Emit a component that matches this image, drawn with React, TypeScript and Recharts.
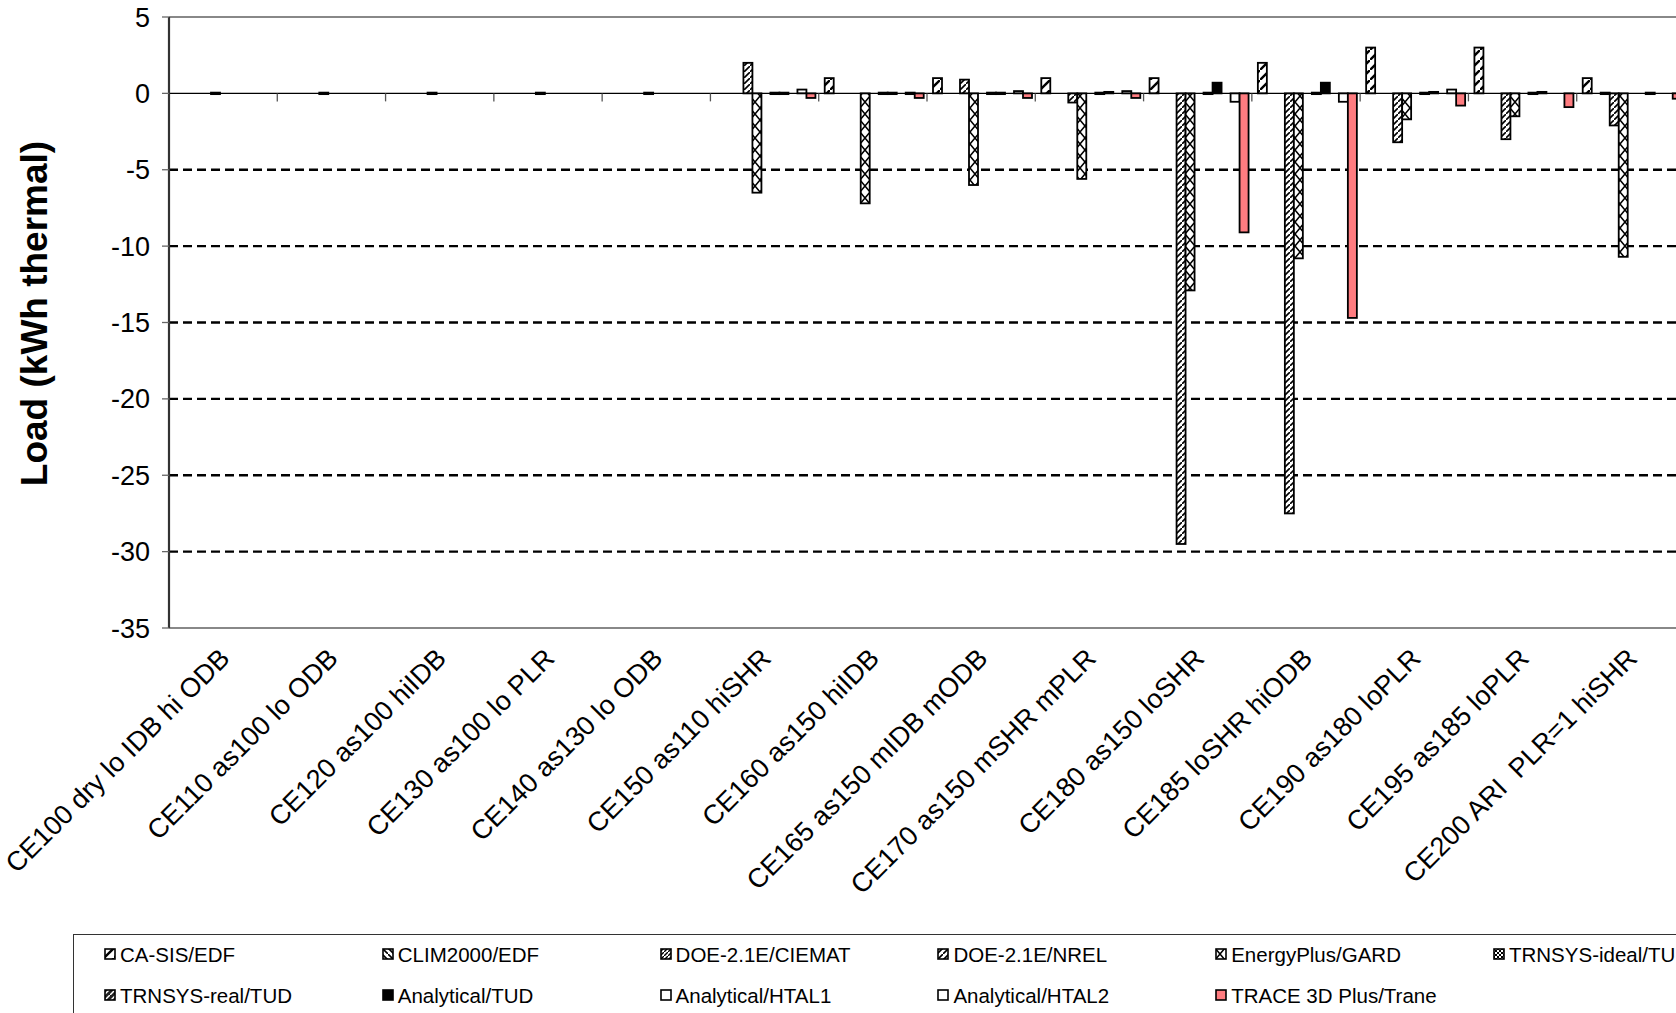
import React from "react";
import { Bar, BarChart, CartesianGrid, ReferenceLine, XAxis, YAxis } from "recharts";

const categories = [
  "CE100 dry lo IDB hi ODB",
  "CE110 as100 lo ODB",
  "CE120 as100 hiIDB",
  "CE130 as100 lo PLR",
  "CE140 as130 lo ODB",
  "CE150 as110 hiSHR",
  "CE160 as150 hiIDB",
  "CE165 as150 mIDB mODB",
  "CE170 as150 mSHR mPLR",
  "CE180 as150 loSHR",
  "CE185 loSHR hiODB",
  "CE190 as180 loPLR",
  "CE195 as185 loPLR",
  "CE200 ARI  PLR=1 hiSHR",
];

const seriesNames = [
  "CA-SIS/EDF",
  "CLIM2000/EDF",
  "DOE-2.1E/CIEMAT",
  "DOE-2.1E/NREL",
  "EnergyPlus/GARD",
  "TRNSYS-ideal/TUD",
  "TRNSYS-real/TUD",
  "Analytical/TUD",
  "Analytical/HTAL1",
  "Analytical/HTAL2",
  "TRACE 3D Plus/Trane",
];

const n = null;
const caSis = [n, n, n, n, n, n, 1.0, 1.0, 1.0, 1.0, 2.0, 3.0, 3.0, 1.0];
const clim2000 = [n, n, n, n, n, n, n, n, n, n, n, n, n, n];
const doeCiemat = [n, n, n, n, n, n, n, n, n, n, n, n, n, 0];
const doeNrel = [n, n, n, n, n, 2.0, n, 0.9, -0.6, -29.5, -27.5, -3.2, -3.0, -2.1];
const energyPlus = [0, 0, 0, 0, 0, -6.5, -7.2, -6.0, -5.6, -12.9, -10.8, -1.7, -1.5, -10.7];
const trnsysIdeal = [n, n, n, n, n, n, n, n, n, n, n, n, n, n];
const trnsysReal = [n, n, n, n, n, 0, 0, 0, 0, 0, 0, 0, 0, n];
const analyticalTud = [n, n, n, n, n, 0, 0, 0, 0.05, 0.7, 0.7, 0.05, 0.05, 0];
const htal1 = [n, n, n, n, n, n, n, n, n, n, n, n, n, n];
const htal2 = [n, n, n, n, n, 0.25, 0, 0.15, 0.15, -0.55, -0.55, 0.25, n, n];
const trace = [n, n, n, n, n, -0.3, -0.3, -0.3, -0.3, -9.1, -14.7, -0.8, -0.9, -0.35];

const seriesValues = [caSis, clim2000, doeCiemat, doeNrel, energyPlus, trnsysIdeal, trnsysReal, analyticalTud, htal1, htal2, trace];

const yTicks = [5, 0, -5, -10, -15, -20, -25, -30, -35];
const dashedGrid = [-5, -10, -15, -20, -25, -30];

const data = categories.map((name, ci) => {
  const row: Record<string, any> = { name };
  seriesValues.forEach((vals, si) => {
    row["s" + si] = vals[ci];
  });
  return row;
});

const FONT = "'Liberation Sans', Arial, sans-serif";

// fill for each series, patterns defined in Patterns()
const seriesFills = [
  "p0", "p1", "p2", "p3", "p4", "p5", "p6", "#000000", "#ffffff", "#ffffff", "#ff7c80",
];

function Patterns({ prefix }: { prefix: string }) {
  return (
    <defs>
      <pattern id={prefix + "p0"} width="10" height="10" patternUnits="userSpaceOnUse">
        <rect width="10" height="10" fill="#fff" />
        <path d="M-2,12 L12,-2" stroke="#000" strokeWidth="2.4" />
      </pattern>
      <pattern id={prefix + "p1"} width="6" height="6" patternUnits="userSpaceOnUse">
        <rect width="6" height="6" fill="#fff" />
        <path d="M0,0 L6,6" stroke="#000" strokeWidth="1.6" />
      </pattern>
      <pattern id={prefix + "p2"} width="4" height="4" patternUnits="userSpaceOnUse">
        <rect width="4" height="4" fill="#fff" />
        <path d="M-1,5 L5,-1" stroke="#000" strokeWidth="1.4" />
      </pattern>
      <pattern id={prefix + "p3"} width="6" height="6" patternUnits="userSpaceOnUse">
        <rect width="6" height="6" fill="#fff" />
        <path d="M-1,7 L7,-1" stroke="#000" strokeWidth="1.6" />
      </pattern>
      <pattern id={prefix + "p4"} width="10" height="12" patternUnits="userSpaceOnUse">
        <rect width="10" height="12" fill="#fff" />
        <path d="M0,0 L10,12 M10,0 L0,12" stroke="#000" strokeWidth="1.5" />
      </pattern>
      <pattern id={prefix + "p5"} width="4" height="4" patternUnits="userSpaceOnUse">
        <rect width="4" height="4" fill="#fff" />
        <rect width="2" height="2" fill="#000" />
        <rect x="2" y="2" width="2" height="2" fill="#000" />
      </pattern>
      <pattern id={prefix + "p6"} width="6" height="6" patternUnits="userSpaceOnUse">
        <rect width="6" height="6" fill="#222" />
        <path d="M-1,7 L7,-1" stroke="#fff" strokeWidth="1.5" />
      </pattern>
    </defs>
  );
}

function fillFor(i: number, prefix: string) {
  const f = seriesFills[i];
  return f.startsWith("#") ? f : `url(#${prefix}${f})`;
}

function makeBarShape(key: string, fill: string) {
  return (props: any) => {
    const { x, y, width, height, payload } = props;
    const v = payload ? payload[key] : null;
    if (v === null || v === undefined || !isFinite(y) || !isFinite(height)) return <g />;
    let top = y;
    let h = height;
    if (h < 0) {
      top = y + h;
      h = -h;
    }
    if (h < 1.5) {
      // zero or near-zero values show as a flat dash on the axis
      top = v > 0 ? top + h - 1.5 : v < 0 ? top : top - 0.75;
      h = 1.5;
    }
    return <rect x={x} y={top} width={width} height={h} fill={fill} stroke="#000" strokeWidth={1.8} />;
  };
}

function CategoryTick({ x, y, payload }: any) {
  const ax = x + 8;
  const ay = y + 24;
  return (
    <text
      x={ax}
      y={ay}
      transform={`rotate(-45 ${ax} ${ay})`}
      textAnchor="end"
      fontSize={27}
      fontFamily={FONT}
      fill="#000"
      style={{ whiteSpace: "pre" }}
    >
      {payload.value}
    </text>
  );
}

function ZeroLine(props: any) {
  const { x1, x2, y1 } = props;
  const step = (x2 - x1) / categories.length;
  return (
    <g>
      <line x1={x1} x2={x2} y1={y1} y2={y1} stroke="#000" strokeWidth={1.3} />
      {categories.slice(1).map((c, i) => (
        <line key={c} x1={x1 + step * (i + 1)} x2={x1 + step * (i + 1)} y1={y1} y2={y1 + 8} stroke="#555" strokeWidth={1.3} />
      ))}
    </g>
  );
}

function LegendBox() {
  return (
    <div
      style={{
        position: "absolute",
        left: 73,
        top: 934,
        width: 1700,
        height: 200,
        border: "1.5px solid #333",
        boxSizing: "border-box",
        background: "#fff",
      }}
    >
      <div
        style={{
          position: "absolute",
          left: 30,
          top: -1,
          display: "grid",
          gridTemplateColumns: "repeat(6, 277.8px)",
          gridAutoRows: "41px",
          fontFamily: FONT,
          fontSize: 20.5,
          color: "#000",
        }}
      >
        {seriesNames.map((name, i) => (
          <div key={name} style={{ display: "flex", alignItems: "center", whiteSpace: "nowrap" }}>
            <svg width={13} height={13} style={{ marginRight: 3 }}>
              <Patterns prefix={"lg" + i} />
              <rect x={1} y={1} width={10} height={10} fill={fillFor(i, "lg" + i)} stroke="#000" strokeWidth={1.6} />
            </svg>
            {name}
          </div>
        ))}
      </div>
    </div>
  );
}

export default function App() {
  return (
    <div style={{ position: "fixed", left: 0, top: 0, width: 1676, height: 1013, overflow: "hidden", background: "#fff" }}>
      <BarChart
        width={1700}
        height={1013}
        data={data}
        margin={{ top: 17, right: 15, bottom: 0, left: 0 }}
        barCategoryGap={6}
        barGap={0}
      >
        <Patterns prefix="" />
        <CartesianGrid vertical={false} horizontalValues={dashedGrid} stroke="#000" strokeWidth={2.3} strokeDasharray="9 5" />
        <XAxis dataKey="name" axisLine={false} tickLine={false} interval={0} height={385} tick={<CategoryTick />} />
        <YAxis
          domain={[-35, 5]}
          ticks={yTicks}
          interval={0}
          width={169}
          axisLine={{ stroke: "#333", strokeWidth: 2.2 }}
          tickLine={{ stroke: "#666", strokeWidth: 1.3 }}
          tickSize={7}
          tickMargin={12}
          tick={{ fontSize: 27, fontFamily: FONT, fill: "#000" }}
          label={{
            content: ({ viewBox }: any) => {
              const lx = viewBox.x + 47;
              const ly = viewBox.y + viewBox.height / 2 - 9;
              return (
                <text x={lx} y={ly} transform={`rotate(-90 ${lx} ${ly})`} textAnchor="middle" fontSize={37} fontWeight="bold" fontFamily={FONT} fill="#000">
                  Load (kWh thermal)
                </text>
              );
            },
          }}
        />
        <ReferenceLine y={5} stroke="#888" strokeWidth={2} />
        <ReferenceLine y={-35} stroke="#888" strokeWidth={2} />
        {seriesNames.map((name, i) => (
          <Bar key={name} dataKey={"s" + i} name={name} isAnimationActive={false} shape={makeBarShape("s" + i, fillFor(i, ""))} />
        ))}
        <ReferenceLine y={0} shape={(p: any) => <ZeroLine {...p} />} />
      </BarChart>
      <LegendBox />
    </div>
  );
}
